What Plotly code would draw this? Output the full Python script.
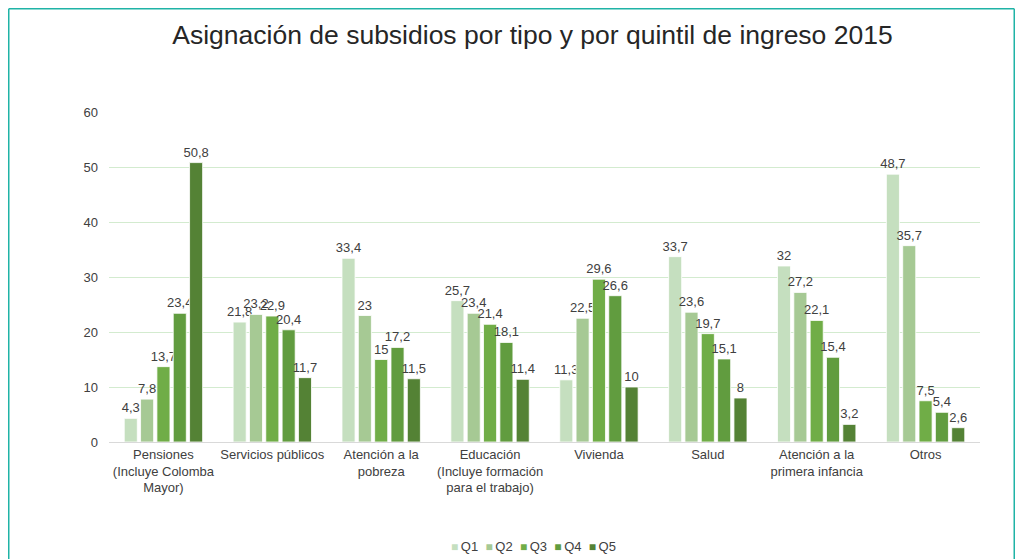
import plotly.graph_objects as go

categories = [
    "Pensiones<br>(Incluye Colomba<br>Mayor)",
    "Servicios públicos",
    "Atención a la<br>pobreza",
    "Educación<br>(Incluye formación<br>para el trabajo)",
    "Vivienda",
    "Salud",
    "Atención a la<br>primera infancia",
    "Otros",
]
series_names = ["Q1", "Q2", "Q3", "Q4", "Q5"]
q1 = [4.3, 21.8, 33.4, 25.7, 11.3, 33.7, 32, 48.7]
q2 = [7.8, 23.2, 23, 23.4, 22.5, 23.6, 27.2, 35.7]
q3 = [13.7, 22.9, 15, 21.4, 29.6, 19.7, 22.1, 7.5]
q4 = [23.4, 20.4, 17.2, 18.1, 26.6, 15.1, 15.4, 5.4]
q5 = [50.8, 11.7, 11.5, 11.4, 10, 8, 3.2, 2.6]
series_values = [q1, q2, q3, q4, q5]
colors = ["#c5dfbf", "#a6c994", "#70ad47", "#619c3f", "#548235"]
y_ticks = [0, 10, 20, 30, 40, 50, 60]

FONT = "Liberation Sans, Arial, sans-serif"
# page body has an 8px margin; figure coords = screen coords - 8
OFF = 8
W, H = 1015, 551
def fx(px):  # screen px -> figure px
    return px - OFF
plot_l, plot_r, plot_t, plot_b = fx(109), fx(980), fx(112), fx(442)
ml, mr, mt, mb = plot_l, W - plot_r, plot_t, H - plot_b

fig = go.Figure()
for name, vals, col in zip(series_names, series_values, colors):
    fig.add_trace(go.Bar(
        name=name,
        x=categories,
        y=vals,
        marker=dict(color=col, line=dict(color="rgba(255,255,255,0.8)", width=1)),
        text=[f"{v:g}".replace(".", ",") for v in vals],
        textposition="outside",
        constraintext="none",
        cliponaxis=False,
        textfont=dict(family=FONT, size=13, color="#404040"),
        hoverinfo="skip",
        showlegend=False,
    ))

pw = W - ml - mr
ph = H - mt - mb
def px_to_paper_x(px):
    return (fx(px) - ml) / pw
def px_to_paper_y(py):
    return (H - mb - fx(py)) / ph

# teal frame: left, top and right edges
for (x0, y0, x1, y1) in [(8.75, 8.75, 8.75, 700), (8.75, 8.75, 1014.25, 8.75), (1014.25, 8.75, 1014.25, 700)]:
    fig.add_shape(
        type="line", xref="paper", yref="paper",
        x0=px_to_paper_x(x0), y0=px_to_paper_y(y0), x1=px_to_paper_x(x1), y1=px_to_paper_y(y1),
        line=dict(color="#1fb3a6", width=1.5), layer="below",
    )

# compact legend (square swatches next to labels)
legend_text = "&nbsp;&nbsp;".join(
    f"<span style='color:{c}; font-size:12px'>■</span>&#8201;<span style='color:#404040'>{n}</span>"
    for n, c in zip(series_names, colors)
)
fig.add_annotation(
    text=legend_text, xref="paper", yref="paper",
    x=px_to_paper_x(533), y=px_to_paper_y(546.5), xanchor="center", yanchor="middle",
    showarrow=False, font=dict(family=FONT, size=13, color="#404040"),
)

fig.update_layout(
    width=W, height=H,
    margin=dict(l=ml, r=mr, t=mt, b=mb, autoexpand=False),
    paper_bgcolor="white", plot_bgcolor="white",
    barmode="group", bargap=0.25, bargroupgap=0.2,
    title=dict(
        text="Asignación de subsidios por tipo y por quintil de ingreso 2015",
        x=fx(532.5) / W, xanchor="center", y=1 - fx(35) / H, yanchor="middle",
        font=dict(family=FONT, size=26.5, color="#262626"),
    ),
    font=dict(family=FONT, size=13, color="#404040"),
    xaxis=dict(
        showgrid=False, showline=True, linecolor="#d9d9d9", linewidth=1,
        ticks="", tickfont=dict(size=13, color="#404040"), automargin=False,
    ),
    yaxis=dict(
        range=[0, 60], tickvals=y_ticks, showgrid=True, gridcolor="#d3ebcf", gridwidth=1,
        zeroline=False, showline=False, ticks="", ticklabelstandoff=10,
        tickfont=dict(size=13, color="#404040"), automargin=False,
    ),
    showlegend=False,
)

fig.write_html("out.html")
